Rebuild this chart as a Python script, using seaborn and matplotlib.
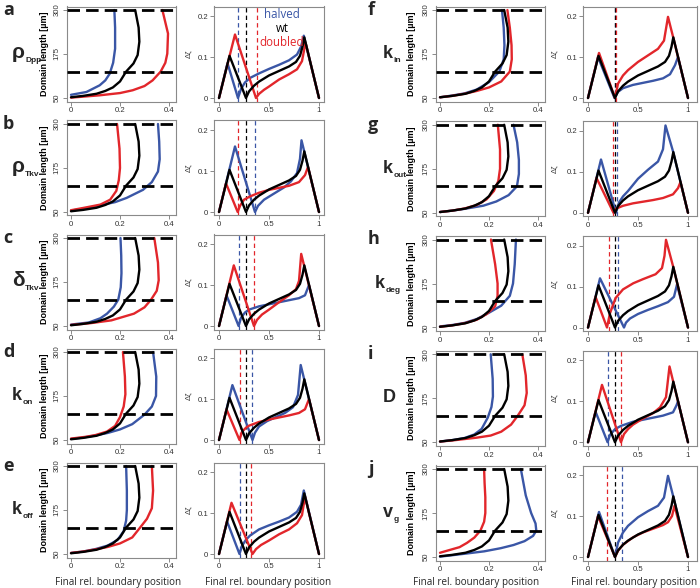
import numpy as np
import pandas as pd
import matplotlib
matplotlib.use("Agg")
import matplotlib.pyplot as plt
import seaborn as sns

sns.set_style("ticks")
plt.rcParams["font.family"] = ["Liberation Sans", "DejaVu Sans"]

# ---------------- data ----------------
# left plots: (final rel. boundary position, domain length [um])
wt_len = [(0, 52), (0.05, 56), (0.104, 62), (0.14, 70), (0.171, 80), (0.2, 97), (0.225, 125),
          (0.255, 148), (0.272, 172), (0.279, 210), (0.276, 250), (0.262, 300)]
a_len_halved = [(0, 59), (0.063, 67), (0.117, 86), (0.14, 100), (0.158, 119), (0.172, 150), (0.18, 190), (0.18, 250), (0.177, 300)]
a_len_doubled = [(0, 51), (0.117, 57.6), (0.2, 64), (0.252, 72), (0.3, 84), (0.333, 100), (0.366, 125), (0.385, 150), (0.393, 176), (0.396, 233), (0.373, 300)]
b_len_halved = [(0, 54), (0.06, 60), (0.12, 69), (0.18, 78), (0.227, 90), (0.294, 113), (0.33, 135), (0.355, 165), (0.362, 200), (0.36, 250), (0.355, 300)]
b_len_doubled = [(0, 55), (0.054, 62), (0.12, 71), (0.16, 85), (0.185, 110), (0.195, 140), (0.2, 175), (0.198, 230), (0.188, 300)]
c_len_halved = [(0, 54), (0.073, 60), (0.12, 72), (0.147, 85), (0.175, 105), (0.193, 125), (0.203, 160), (0.206, 200), (0.205, 250), (0.202, 300)]
c_len_doubled = [(0, 53), (0.08, 58), (0.165, 66), (0.257, 85), (0.3, 103), (0.327, 125), (0.35, 150), (0.358, 180), (0.355, 230), (0.34, 300)]
d_len_halved = [(0, 53), (0.05, 57), (0.1, 63), (0.15, 70), (0.2, 80), (0.25, 95), (0.3, 122), (0.33, 145), (0.347, 175), (0.348, 230), (0.335, 300)]
d_len_doubled = [(0, 54), (0.06, 59), (0.1, 64), (0.147, 74), (0.18, 90), (0.2, 115), (0.215, 145), (0.222, 180), (0.22, 230), (0.212, 300)]
e_len_halved = [(0, 53), (0.05, 57), (0.1, 64), (0.15, 74), (0.19, 90), (0.215, 115), (0.225, 145), (0.228, 175), (0.228, 230), (0.225, 300)]
e_len_doubled = [(0, 53), (0.05, 57), (0.1, 63), (0.15, 70), (0.2, 80), (0.25, 97), (0.282, 125), (0.31, 150), (0.33, 180), (0.335, 230), (0.33, 300)]
f_len_halved = [(0, 52), (0.05, 57), (0.1, 63), (0.15, 74), (0.2, 95), (0.242, 125), (0.26, 160), (0.263, 200), (0.26, 250), (0.253, 300)]
f_len_doubled = [(0, 52), (0.05, 56), (0.1, 62), (0.15, 70), (0.2, 80), (0.25, 97), (0.285, 125), (0.293, 160), (0.292, 200), (0.285, 250), (0.275, 300)]
g_len_halved = [(0, 52), (0.05, 56), (0.1, 61), (0.177, 70), (0.23, 82), (0.28, 100), (0.314, 125), (0.322, 160), (0.322, 200), (0.315, 250), (0.3, 300)]
g_len_doubled = [(0, 52), (0.05, 56), (0.1, 62), (0.15, 72), (0.19, 88), (0.22, 112), (0.238, 140), (0.245, 175), (0.245, 230), (0.236, 300)]
h_len_halved = [(0, 53), (0.05, 57), (0.1, 63), (0.15, 74), (0.2, 92), (0.25, 112), (0.285, 140), (0.298, 175), (0.305, 230), (0.31, 300)]
h_len_doubled = [(0, 52), (0.05, 56), (0.1, 62), (0.15, 72), (0.19, 88), (0.225, 110), (0.235, 140), (0.235, 175), (0.225, 230), (0.208, 300)]
i_len_halved = [(0, 52), (0.05, 56), (0.1, 62), (0.14, 72), (0.17, 88), (0.195, 120), (0.21, 150), (0.216, 180), (0.215, 230), (0.207, 300)]
i_len_doubled = [(0, 52), (0.05, 55), (0.1, 59), (0.15, 63), (0.207, 69), (0.25, 80), (0.29, 100), (0.317, 125), (0.345, 155), (0.354, 190), (0.35, 240), (0.336, 300)]
j_len_halved = [(0, 51), (0.05, 55), (0.11, 60), (0.18, 66), (0.248, 75), (0.3, 84), (0.345, 95), (0.38, 110), (0.393, 125), (0.39, 145), (0.372, 175), (0.35, 225), (0.33, 300)]
j_len_doubled = [(0, 62), (0.04, 70), (0.08, 78), (0.11, 90), (0.14, 105), (0.165, 125), (0.18, 150), (0.185, 175), (0.185, 220), (0.182, 260), (0.18, 300)]

# right plots: (final rel. boundary position, delta zeta)
wt_dz = [(0, 0), (0.105, 0.103), (0.27, 0), (0.3, 0.016), (0.35, 0.03), (0.4, 0.04), (0.5, 0.055), (0.6, 0.066),
         (0.7, 0.077), (0.77, 0.088), (0.81, 0.103), (0.835, 0.125), (0.853, 0.148), (1, 0)]
a_dz_halved = [(0, 0), (0.085, 0.085), (0.19, 0), (0.22, 0.022), (0.26, 0.038), (0.31, 0.049), (0.4, 0.06), (0.5, 0.071), (0.6, 0.081), (0.7, 0.092), (0.78, 0.106), (0.82, 0.125), (0.848, 0.152), (1, 0)]
a_dz_doubled = [(0, 0), (0.16, 0.155), (0.37, 0), (0.4, 0.01), (0.45, 0.02), (0.5, 0.028), (0.6, 0.045), (0.7, 0.058), (0.78, 0.07), (0.83, 0.09), (0.865, 0.135), (1, 0)]
b_dz_halved = [(0, 0), (0.16, 0.16), (0.36, 0), (0.39, 0.015), (0.45, 0.03), (0.55, 0.045), (0.65, 0.06), (0.72, 0.075), (0.78, 0.095), (0.81, 0.13), (0.825, 0.175), (1, 0)]
b_dz_doubled = [(0, 0), (0.07, 0.07), (0.187, 0), (0.21, 0.015), (0.25, 0.03), (0.31, 0.038), (0.4, 0.047), (0.5, 0.054), (0.6, 0.059), (0.7, 0.064), (0.8, 0.073), (0.86, 0.09), (0.89, 0.11), (1, 0)]
c_dz_halved = [(0, 0), (0.075, 0.075), (0.196, 0), (0.22, 0.02), (0.26, 0.033), (0.3, 0.04), (0.4, 0.048), (0.5, 0.053), (0.6, 0.058), (0.7, 0.063), (0.8, 0.068), (0.86, 0.075), (0.9, 0.1), (1, 0)]
c_dz_doubled = [(0, 0), (0.148, 0.148), (0.35, 0), (0.38, 0.015), (0.43, 0.028), (0.5, 0.04), (0.6, 0.058), (0.7, 0.075), (0.77, 0.09), (0.8, 0.11), (0.822, 0.176), (1, 0)]
d_dz_halved = [(0, 0), (0.134, 0.134), (0.335, 0), (0.36, 0.018), (0.4, 0.033), (0.48, 0.046), (0.56, 0.055), (0.66, 0.066), (0.74, 0.08), (0.79, 0.11), (0.817, 0.183), (1, 0)]
d_dz_doubled = [(0, 0), (0.075, 0.075), (0.205, 0), (0.23, 0.02), (0.27, 0.03), (0.3, 0.035), (0.4, 0.044), (0.5, 0.05), (0.6, 0.055), (0.7, 0.06), (0.8, 0.066), (0.86, 0.075), (0.9, 0.1), (1, 0)]
e_dz_halved = [(0, 0), (0.08, 0.08), (0.205, 0), (0.23, 0.02), (0.27, 0.035), (0.31, 0.045), (0.4, 0.06), (0.5, 0.07), (0.6, 0.079), (0.7, 0.089), (0.78, 0.103), (0.82, 0.12), (0.848, 0.155), (1, 0)]
e_dz_doubled = [(0, 0), (0.125, 0.125), (0.335, 0), (0.37, 0.012), (0.42, 0.022), (0.5, 0.033), (0.6, 0.048), (0.7, 0.06), (0.78, 0.075), (0.83, 0.095), (0.86, 0.14), (1, 0)]
f_dz_halved = [(0, 0), (0.1, 0.1), (0.265, 0), (0.3, 0.015), (0.35, 0.024), (0.45, 0.032), (0.55, 0.037), (0.65, 0.042), (0.75, 0.048), (0.82, 0.058), (0.87, 0.08), (0.9, 0.1), (1, 0)]
f_dz_doubled = [(0, 0), (0.11, 0.11), (0.27, 0), (0.3, 0.035), (0.35, 0.055), (0.4, 0.068), (0.5, 0.088), (0.6, 0.104), (0.7, 0.12), (0.76, 0.14), (0.8, 0.198), (0.855, 0.145), (1, 0)]
g_dz_halved = [(0, 0), (0.13, 0.13), (0.28, 0), (0.31, 0.025), (0.35, 0.04), (0.4, 0.053), (0.5, 0.083), (0.6, 0.105), (0.7, 0.125), (0.75, 0.155), (0.775, 0.213), (0.85, 0.15), (1, 0)]
g_dz_doubled = [(0, 0), (0.085, 0.085), (0.255, 0), (0.28, 0.01), (0.35, 0.017), (0.45, 0.023), (0.55, 0.027), (0.65, 0.031), (0.75, 0.036), (0.85, 0.045), (0.9, 0.06), (0.925, 0.075), (1, 0)]
h_dz_halved = [(0, 0), (0.12, 0.12), (0.36, 0), (0.38, 0.012), (0.42, 0.022), (0.5, 0.033), (0.6, 0.043), (0.7, 0.052), (0.8, 0.062), (0.86, 0.075), (0.89, 0.105), (1, 0)]
h_dz_doubled = [(0, 0), (0.075, 0.075), (0.19, 0), (0.22, 0.035), (0.276, 0.072), (0.35, 0.093), (0.453, 0.108), (0.55, 0.118), (0.676, 0.13), (0.74, 0.145), (0.765, 0.175), (0.78, 0.214), (0.85, 0.15), (1, 0)]
i_dz_halved = [(0, 0), (0.075, 0.075), (0.196, 0), (0.22, 0.018), (0.27, 0.032), (0.33, 0.04), (0.45, 0.05), (0.55, 0.055), (0.65, 0.06), (0.75, 0.065), (0.85, 0.073), (0.885, 0.09), (0.9, 0.1), (1, 0)]
i_dz_doubled = [(0, 0), (0.14, 0.14), (0.33, 0), (0.36, 0.02), (0.4, 0.032), (0.45, 0.043), (0.55, 0.058), (0.65, 0.071), (0.72, 0.085), (0.78, 0.11), (0.815, 0.185), (1, 0)]
j_dz_halved = [(0, 0), (0.11, 0.11), (0.27, 0), (0.3, 0.035), (0.35, 0.06), (0.4, 0.076), (0.5, 0.097), (0.6, 0.112), (0.7, 0.125), (0.76, 0.145), (0.8, 0.198), (0.85, 0.15), (1, 0)]
j_dz_doubled = [(0, 0), (0.1, 0.1), (0.27, 0), (0.3, 0.015), (0.35, 0.03), (0.45, 0.048), (0.55, 0.06), (0.65, 0.069), (0.75, 0.078), (0.8, 0.085), (0.84, 0.1), (0.865, 0.125), (1, 0)]

# boundary markers (halved, wt, doubled)
a_bound = [0.187, 0.27, 0.377]
b_bound = [0.355, 0.27, 0.187]
c_bound = [0.196, 0.27, 0.348]
d_bound = [0.326, 0.27, 0.205]
e_bound = [0.205, 0.27, 0.32]
f_bound = [0.265, 0.27, 0.275]
g_bound = [0.29, 0.27, 0.25]
h_bound = [0.298, 0.27, 0.209]
i_bound = [0.196, 0.27, 0.333]
j_bound = [0.343, 0.27, 0.19]

length_refs = [300, 125]
len_ticks = [50, 175, 300]
pos_ticks = [0, 0.2, 0.4]
dz_x_ticks = [0, 0.5, 1]
dz_y_ticks = [0, 0.1, 0.2]

panel_letters = ["a", "b", "c", "d", "e", "f", "g", "h", "i", "j"]
param_main = ["ρ", "ρ", "δ", "k", "k", "k", "k", "k", "D", "v"]
param_sub = ["Dpp", "Tkv", "Tkv", "on", "off", "in", "out", "deg", "", "g"]
conditions = ["halved", "wt", "doubled"]

len_data = {"a": (a_len_halved, a_len_doubled), "b": (b_len_halved, b_len_doubled),
            "c": (c_len_halved, c_len_doubled), "d": (d_len_halved, d_len_doubled),
            "e": (e_len_halved, e_len_doubled), "f": (f_len_halved, f_len_doubled),
            "g": (g_len_halved, g_len_doubled), "h": (h_len_halved, h_len_doubled),
            "i": (i_len_halved, i_len_doubled), "j": (j_len_halved, j_len_doubled)}
dz_data = {"a": (a_dz_halved, a_dz_doubled), "b": (b_dz_halved, b_dz_doubled),
           "c": (c_dz_halved, c_dz_doubled), "d": (d_dz_halved, d_dz_doubled),
           "e": (e_dz_halved, e_dz_doubled), "f": (f_dz_halved, f_dz_doubled),
           "g": (g_dz_halved, g_dz_doubled), "h": (h_dz_halved, h_dz_doubled),
           "i": (i_dz_halved, i_dz_doubled), "j": (j_dz_halved, j_dz_doubled)}
bounds = {"a": a_bound, "b": b_bound, "c": c_bound, "d": d_bound, "e": e_bound,
          "f": f_bound, "g": g_bound, "h": h_bound, "i": i_bound, "j": j_bound}

# ---------------- style ----------------
BLUE = "#3A56A6"
RED = "#E2262B"
BLACK = "#000000"
palette = {"halved": BLUE, "wt": BLACK, "doubled": RED}
hue_order = ["halved", "doubled", "wt"]
FRAME = "#8a8a8a"
TICKTXT = "#333333"

W, H = 700, 588
fig = plt.figure(figsize=(7, 5.88), dpi=100)


def rect(x0, y0, x1, y1):
    return [x0 / W, 1 - y1 / H, (x1 - x0) / W, (y1 - y0) / H]


def style_axes(ax):
    for s in ax.spines.values():
        s.set_color(FRAME)
        s.set_linewidth(0.8)
    ax.tick_params(length=3, width=0.7, color=FRAME, labelsize=5.6, labelcolor=TICKTXT, pad=1.2)


def frame_df(curves):
    rows = []
    for cond, pts in curves:
        for k, (x, y) in enumerate(pts):
            rows.append({"cond": cond, "x": x, "y": y, "i": k})
    return pd.DataFrame(rows)


cols = [
    dict(l0=66.5, l1=175.5, lz=71, r0=214, r1=324, rz=219, ylab=49, dzlab=192, lett=3, par=12,
         xl_l=118, xl_r=268, step=114.0),
    dict(l0=435.5, l1=544.5, lz=440, r0=583, r1=697, rz=588, ylab=416, dzlab=558, lett=368, par=383,
         xl_l=476, xl_r=634, step=114.75),
]
par_x_override = {"h": 375}

for idx, letter in enumerate(panel_letters):
    c = cols[idx // 5]
    r = idx % 5
    y300 = 10 + c["step"] * r
    top, bot = y300 - 3.5, y300 + 88 + 3.5

    # ---- left: domain length vs boundary position
    axL = fig.add_axes(rect(c["l0"], top, c["l1"], bot))
    halved, doubled = len_data[letter]
    df = frame_df([("halved", halved), ("doubled", doubled), ("wt", wt_len)])
    sns.lineplot(data=df, x="x", y="y", hue="cond", hue_order=hue_order, palette=palette,
                 sort=False, estimator=None, units="cond", legend=False, lw=1.7, ax=axL)
    for yv in length_refs:
        axL.axhline(yv, color="black", lw=2.0, ls=(0, (4.5, 2.2)), zorder=5)
    axL.set_xlim((c["l0"] - c["lz"]) / 245, (c["l1"] - c["lz"]) / 245)
    axL.set_ylim(40, 310)
    axL.set_xticks(pos_ticks)
    axL.set_xticklabels(["0", "0.2", "0.4"])
    axL.set_yticks(len_ticks)
    axL.set_yticklabels([str(t) for t in len_ticks], rotation=90, va="center")
    axL.set_xlabel("")
    axL.set_ylabel("Domain length [µm]", fontsize=6.5, fontweight="bold", color="black")
    axL.yaxis.set_label_coords((c["ylab"] - c["l0"]) / (c["l1"] - c["l0"]), 0.5)
    style_axes(axL)

    # ---- right: delta zeta vs position
    axR = fig.add_axes(rect(c["r0"], top, c["r1"], bot))
    halved, doubled = dz_data[letter]
    df = frame_df([("halved", halved), ("doubled", doubled), ("wt", wt_dz)])
    sns.lineplot(data=df, x="x", y="y", hue="cond", hue_order=hue_order, palette=palette,
                 sort=False, estimator=None, units="cond", legend=False, lw=1.7, ax=axR)
    for cond, xv in zip(conditions, bounds[letter]):
        axR.axvline(xv, color=palette[cond], lw=0.9, ls=(0, (3.5, 2.5)), zorder=1)
    axR.set_xlim((c["r0"] - c["rz"]) / 100, (c["r1"] - c["rz"]) / 100)
    axR.set_ylim(-0.0085, 0.2233)
    axR.set_xticks(dz_x_ticks)
    axR.set_xticklabels(["0", "0.5", "1"])
    axR.set_yticks(dz_y_ticks)
    axR.set_yticklabels(["0", "0.1", "0.2"])
    axR.set_xlabel("")
    axR.set_ylabel("Δζ", fontsize=5.5, color=TICKTXT)
    axR.yaxis.set_label_coords((c["dzlab"] - c["r0"]) / (c["r1"] - c["r0"]), 0.5)
    style_axes(axR)

    # ---- labels
    fig.text(c["lett"] / W, 1 - (y300 + 5) / H, letter, fontsize=13, fontweight="bold",
             family=["Open Sans", "DejaVu Sans"], va="baseline", ha="left")
    px = par_x_override.get(letter, c["par"])
    big = 15 if param_main[idx] in ("ρ", "δ") else 13
    t = fig.text(px / W, 1 - (y300 + 48) / H, param_main[idx], fontsize=big, fontweight="bold",
                 va="baseline", ha="left")
    if param_sub[idx]:
        axL.annotate(param_sub[idx], xy=(1, 0), xycoords=t, xytext=(0.3, 1.0),
                     textcoords="offset points", fontsize=6, fontweight="bold",
                     va="center", ha="left", annotation_clip=False)

    if r == 4:
        for xc in (c["xl_l"], c["xl_r"]):
            fig.text(xc / W, 1 - 582 / H, "Final rel. boundary position", fontsize=7.1,
                     family=["Open Sans", "DejaVu Sans"], ha="center", va="center")

# legend text in panel a
for label, color, yy in [("halved", BLUE, 15), ("wt", BLACK, 29), ("doubled", RED, 43)]:
    fig.text(282 / W, 1 - yy / H, label, fontsize=8.3, color=color, ha="center", va="center",
             family=["Open Sans", "DejaVu Sans"])

fig.savefig("out.png", dpi=100)
